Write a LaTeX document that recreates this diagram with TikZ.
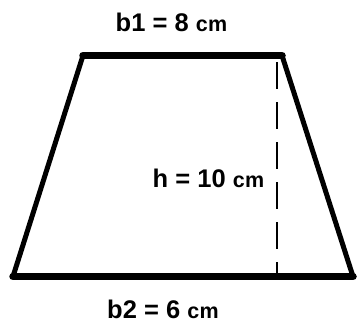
\documentclass[tikz,border=0pt]{standalone}
\usepackage{fontspec}
\setmainfont{Liberation Sans}
\begin{document}
\begin{tikzpicture}[x=1pt,y=-1pt,
  base/.style={line width=7.5pt,line cap=round,line join=miter},
  side/.style={line width=5pt,line cap=round},
  height/.style={line width=2.6pt,dash pattern=on 27pt off 13pt},
  lab/.style={anchor=base west,inner sep=0pt,font=\fontsize{25.5}{28}\selectfont\bfseries}]
\useasboundingbox (0,0) rectangle (358,327);
\fill[white] (0,0) rectangle (358,327);
\coordinate (TL) at (83,55.5);
\coordinate (TR) at (282,55.5);
\coordinate (BL) at (13,276.5);
\coordinate (BR) at (353,276.5);
\coordinate (HT) at (277,62);
\coordinate (HB) at (277,274);
\draw[height] (HT) -- (HB);
\draw[side] (TL) -- (BL);
\draw[side] (TR) -- (BR);
\draw[base] (TL) -- (TR);
\draw[base] (BL) -- (BR);
\node[lab] (b1) at (115.5,31) {b1 = 8 {\fontsize{21.5}{24}\selectfont c\kern0.5pt m}};
\node[lab] (h) at (152.5,187.3) {h = 10 {\fontsize{21.5}{24}\selectfont c\kern0.5pt m}};
\node[lab] (b2) at (107,318.3) {b2 = 6 {\fontsize{21.5}{24}\selectfont c\kern0.5pt m}};
\end{tikzpicture}
\end{document}
